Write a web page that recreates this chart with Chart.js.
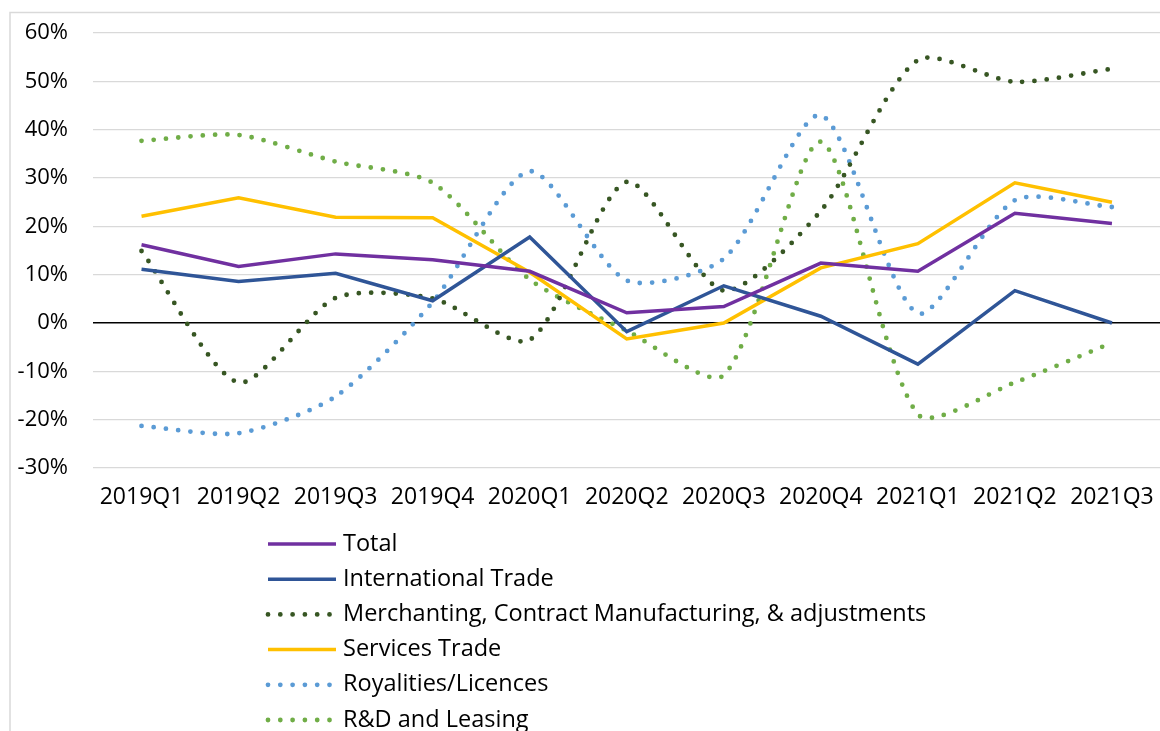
<!DOCTYPE html>
<html lang="en">
<head>
  <meta charset="UTF-8" />
  <title>Growth by component</title>
  <script src="https://cdn.jsdelivr.net/npm/chart.js"></script>
  <style>
    html, body {
      margin: 0;
      padding: 0;
      overflow: hidden;
      background: #fff;
    }
    canvas {
      display: block;
    }
  </style>
</head>
<body>
  <canvas id="growthChart" width="1170" height="731"></canvas>

  <script>
    // data (percent)
    const quarters = ['2019Q1', '2019Q2', '2019Q3', '2019Q4', '2020Q1', '2020Q2',
                      '2020Q3', '2020Q4', '2021Q1', '2021Q2', '2021Q3'];
    const yTicks = [-30, -20, -10, 0, 10, 20, 30, 40, 50, 60];

    const total         = [16.2, 11.7, 14.3, 13.1, 10.7, 2.1, 3.4, 12.4, 10.7, 22.7, 20.6];
    const intlTrade     = [11.1, 8.6, 10.3, 4.6, 17.8, -1.8, 7.7, 1.4, -8.5, 6.7, 0.0];
    const merchanting   = [14.9, -12.3, 5.2, 5.1, -3.5, 29.2, 6.7, 23.2, 54.4, 49.9, 52.6];
    const servicesTrade = [22.1, 25.9, 21.9, 21.8, 10.5, -3.3, 0.0, 11.4, 16.4, 29.0, 25.0];
    const royalties     = [-21.3, -22.8, -15.2, 4.3, 31.4, 8.8, 13.3, 43.0, 2.0, 25.4, 24.0];
    const rdLeasing     = [37.7, 38.9, 33.4, 29.0, 9.0, -1.6, -10.8, 37.5, -18.9, -12.3, -4.1];

    const FONT = "'Open Sans', 'Noto Sans', sans-serif";
    const DOTS = [0, 12.3];

    function solid(label, values, color) {
      return {
        label: label, data: values, borderColor: color, backgroundColor: color,
        borderWidth: 3.5, pointRadius: 0, tension: 0, fill: false,
        borderJoinStyle: 'miter'
      };
    }
    function dotted(label, values, color) {
      return {
        label: label, data: values, borderColor: color, backgroundColor: color,
        borderWidth: 4.8, pointRadius: 0, tension: 0.25, fill: false,
        borderDash: DOTS, borderCapStyle: 'round'
      };
    }

    // outer frame + vertical legend, drawn on the canvas
    const framePlugin = {
      id: 'frame',
      beforeDraw(chart) {
        const c = chart.ctx;
        c.save();
        c.strokeStyle = '#d9d9d9';
        c.lineWidth = 1.5;
        c.strokeRect(10, 12.5, 2000, 2000);
        c.restore();
      }
    };

    const legendPlugin = {
      id: 'stackLegend',
      afterDraw(chart) {
        const c = chart.ctx;
        const rowY = 544, rowStep = 35.2;
        c.save();
        c.font = '23.5px ' + FONT;
        c.textBaseline = 'middle';
        c.fillStyle = '#000';
        chart.data.datasets.forEach((ds, i) => {
          const y = rowY + i * rowStep;
          c.beginPath();
          c.strokeStyle = ds.borderColor;
          c.lineWidth = ds.borderWidth;
          c.lineCap = ds.borderDash ? 'round' : 'butt';
          c.setLineDash(ds.borderDash || []);
          c.moveTo(268, y);
          c.lineTo(ds.borderDash ? 333 : 336, y);
          c.stroke();
          c.setLineDash([]);
          c.fillText(ds.label, 343, y);
        });
        c.restore();
      }
    };

    const ctx = document.getElementById('growthChart').getContext('2d');
    new Chart(ctx, {
      type: 'line',
      data: {
        labels: quarters,
        datasets: [
          solid('Total', total, '#7030A0'),
          solid('International Trade', intlTrade, '#2F5597'),
          dotted('Merchanting, Contract Manufacturing, & adjustments', merchanting, '#375623'),
          solid('Services Trade', servicesTrade, '#FFC000'),
          dotted('Royalities/Licences', royalties, '#5B9BD5'),
          dotted('R&D and Leasing', rdLeasing, '#70AD47')
        ]
      },
      options: {
        responsive: false,
        animation: false,
        layout: { padding: { top: 33, right: 5, bottom: 0, left: 0 } },
        scales: {
          x: {
            offset: true,
            grid: { display: false, drawTicks: false },
            border: { display: false },
            ticks: {
              padding: 16, color: '#000', maxRotation: 0, autoSkip: false,
              font: { family: FONT, size: 23 }
            },
            afterFit: s => { s.height = 263; }
          },
          y: {
            min: -30, max: 60,
            afterBuildTicks: s => { s.ticks = yTicks.map(v => ({ value: v })); },
            grid: {
              drawTicks: false,
              color: c => c.tick && c.tick.value === 0 ? '#000' : '#d9d9d9',
              lineWidth: c => c.tick && c.tick.value === 0 ? 1.5 : 1.2
            },
            border: { display: false },
            ticks: {
              padding: 25, color: '#000',
              // small lineHeight keeps the scale from pushing the plot top down
              font: { family: FONT, size: 22, lineHeight: 0.6 },
              callback: v => v + '%'
            },
            afterFit: s => { s.width = 93; }
          }
        },
        plugins: {
          legend: { display: false },
          tooltip: { enabled: false }
        }
      },
      plugins: [framePlugin, legendPlugin]
    });
  </script>
</body>
</html>
